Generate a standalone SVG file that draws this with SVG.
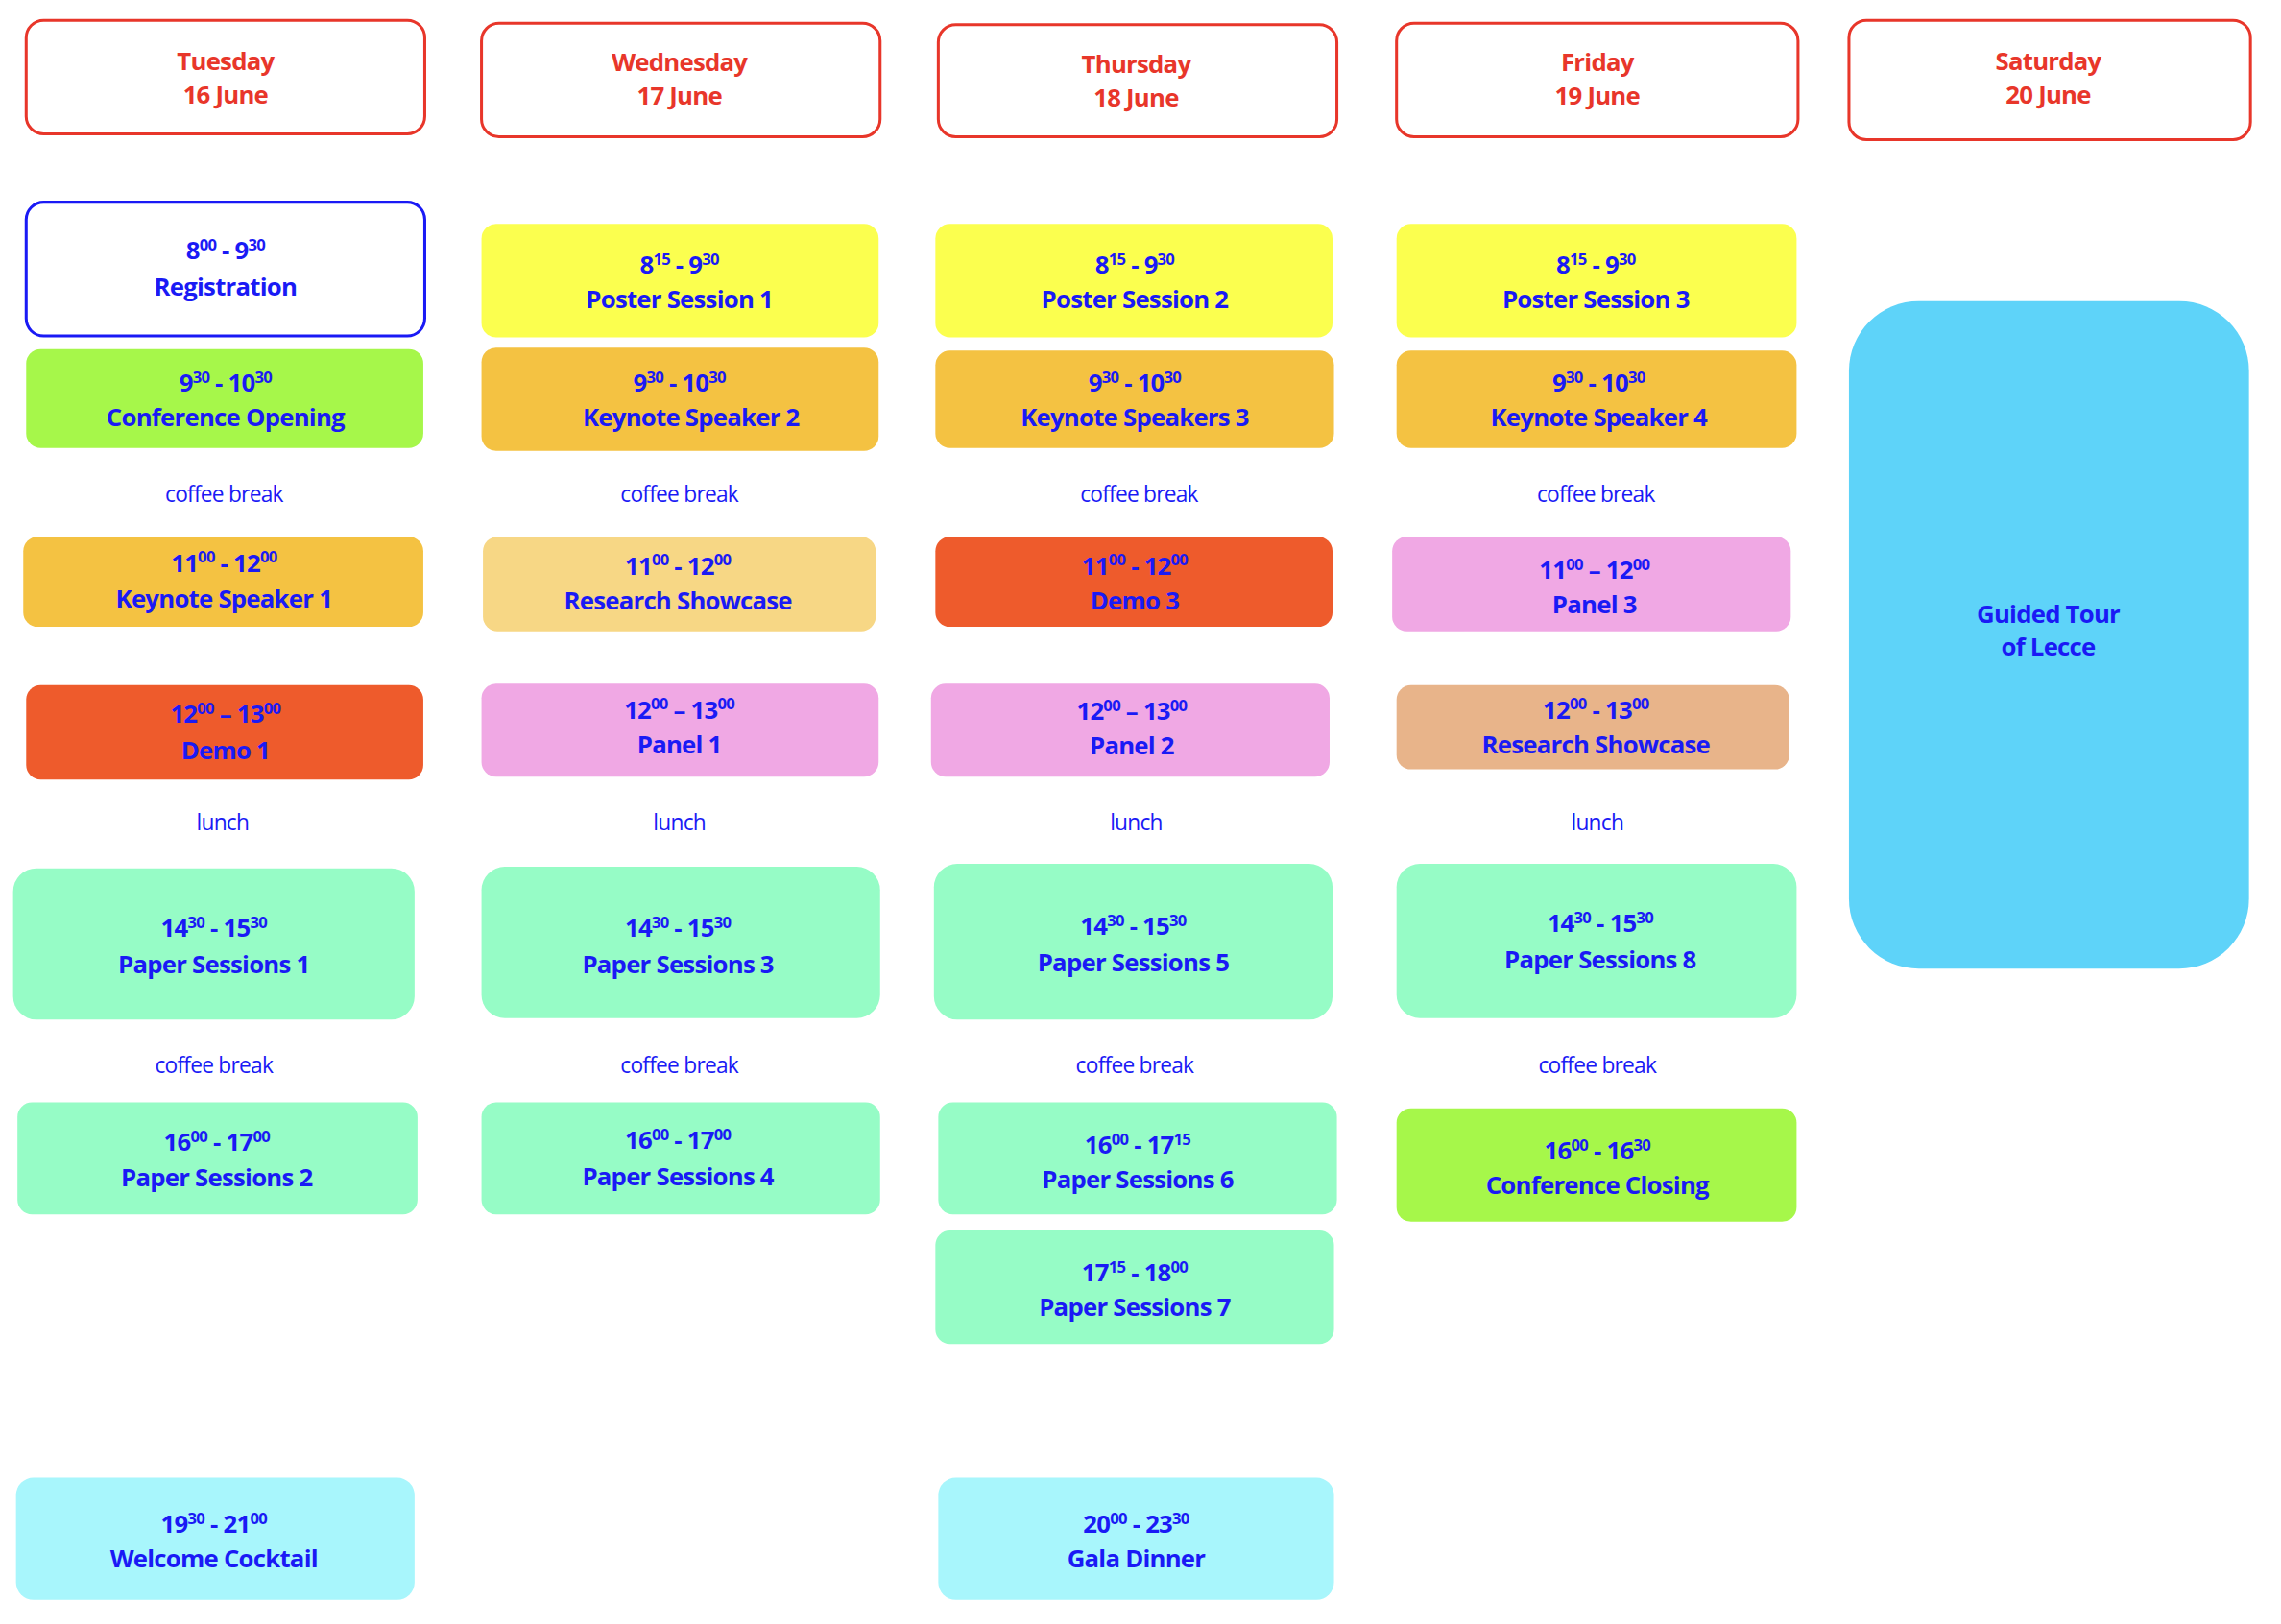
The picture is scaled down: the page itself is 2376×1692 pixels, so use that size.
<svg xmlns="http://www.w3.org/2000/svg" width="2376" height="1692" viewBox="0 0 2376 1692">
<style>
text{font-family:"Liberation Sans Narrow","Open Sans","Liberation Sans",sans-serif;font-weight:bold;text-anchor:middle;fill:#1a1af5;font-size:17px;letter-spacing:-0.5px}
.h{fill:#fff;stroke:#e8362a;stroke-width:2}
.h+text,.ht{fill:#e8362a}
.n{font-weight:normal;font-size:15px}
.s{font-size:11px}
</style>
<rect width="2376" height="1692" fill="#fff"/>
<g transform="scale(1.5153)">
<g id="hdr-tue"><rect class="h" x="18" y="14" width="274" height="78" rx="12"/><text class="ht" x="155" y="48">Tuesday</text><text class="ht" x="155" y="71">16 June</text></g>
<g id="hdr-wed"><rect class="h" x="331" y="16" width="274" height="78" rx="12"/><text class="ht" x="467" y="49">Wednesday</text><text class="ht" x="467" y="72">17 June</text></g>
<g id="hdr-thu"><rect class="h" x="645" y="17" width="274" height="77" rx="12"/><text class="ht" x="781" y="50">Thursday</text><text class="ht" x="781" y="73">18 June</text></g>
<g id="hdr-fri"><rect class="h" x="960" y="16" width="276" height="78" rx="12"/><text class="ht" x="1098" y="49">Friday</text><text class="ht" x="1098" y="72">19 June</text></g>
<g id="hdr-sat"><rect class="h" x="1271" y="14" width="276" height="82" rx="12"/><text class="ht" x="1408" y="48">Saturday</text><text class="ht" x="1408" y="71">20 June</text></g>

<g id="registration"><rect x="18" y="139" width="274" height="92" rx="12" fill="#fff" stroke="#1a1af5" stroke-width="2"/><text x="155" y="178">8<tspan class="s" dy="-6">00</tspan><tspan dy="6"> - 9</tspan><tspan class="s" dy="-6">30</tspan></text><text x="155" y="203">Registration</text></g>
<g id="opening"><rect x="18" y="240" width="273" height="68" rx="10" fill="#a6f74a"/><text x="155" y="269">9<tspan class="s" dy="-6">30</tspan><tspan dy="6"> - 10</tspan><tspan class="s" dy="-6">30</tspan></text><text x="155" y="293">Conference Opening</text></g>
<text class="n" x="154" y="345">coffee break</text>
<g id="keynote1"><rect x="16" y="369" width="275" height="62" rx="10" fill="#f4c242"/><text x="154" y="393">11<tspan class="s" dy="-6">00</tspan><tspan dy="6"> - 12</tspan><tspan class="s" dy="-6">00</tspan></text><text x="154" y="418">Keynote Speaker 1</text></g>
<g id="demo1"><rect x="18" y="471" width="273" height="65" rx="10" fill="#ee5b2c"/><text x="155" y="497">12<tspan class="s" dy="-6">00</tspan><tspan dy="6"> – 13</tspan><tspan class="s" dy="-6">00</tspan></text><text x="155" y="522">Demo 1</text></g>
<text class="n" x="153" y="571">lunch</text>
<g id="paper1"><rect x="9" y="597" width="276" height="104" rx="16" fill="#96fcc6"/><text x="147" y="644">14<tspan class="s" dy="-6">30</tspan><tspan dy="6"> - 15</tspan><tspan class="s" dy="-6">30</tspan></text><text x="147" y="669">Paper Sessions 1</text></g>
<text class="n" x="147" y="738">coffee break</text>
<g id="paper2"><rect x="12" y="758" width="275" height="77" rx="10" fill="#96fcc6"/><text x="149" y="791">16<tspan class="s" dy="-6">00</tspan><tspan dy="6"> - 17</tspan><tspan class="s" dy="-6">00</tspan></text><text x="149" y="816">Paper Sessions 2</text></g>
<g id="cocktail"><rect x="11" y="1016" width="274" height="84" rx="12" fill="#a8f6fc"/><text x="147" y="1054">19<tspan class="s" dy="-6">30</tspan><tspan dy="6"> - 21</tspan><tspan class="s" dy="-6">00</tspan></text><text x="147" y="1078">Welcome Cocktail</text></g>

<g id="poster1"><rect x="331" y="154" width="273" height="78" rx="10" fill="#fbff4f"/><text x="467" y="188">8<tspan class="s" dy="-6">15</tspan><tspan dy="6"> - 9</tspan><tspan class="s" dy="-6">30</tspan></text><text x="467" y="212">Poster Session 1</text></g>
<g id="keynote2"><rect x="331" y="239" width="273" height="71" rx="10" fill="#f4c242"/><text x="467" y="269">9<tspan class="s" dy="-6">30</tspan><tspan dy="6"> - 10</tspan><tspan class="s" dy="-6">30</tspan></text><text x="475" y="293">Keynote Speaker 2</text></g>
<text class="n" x="467" y="345">coffee break</text>
<g id="research2"><rect x="332" y="369" width="270" height="65" rx="10" fill="#f7d785"/><text x="466" y="395">11<tspan class="s" dy="-6">00</tspan><tspan dy="6"> - 12</tspan><tspan class="s" dy="-6">00</tspan></text><text x="466" y="419">Research Showcase</text></g>
<g id="panel1"><rect x="331" y="470" width="273" height="64" rx="10" fill="#f0a8e4"/><text x="467" y="494">12<tspan class="s" dy="-6">00</tspan><tspan dy="6"> – 13</tspan><tspan class="s" dy="-6">00</tspan></text><text x="467" y="518">Panel 1</text></g>
<text class="n" x="467" y="571">lunch</text>
<g id="paper3"><rect x="331" y="596" width="274" height="104" rx="16" fill="#96fcc6"/><text x="466" y="644">14<tspan class="s" dy="-6">30</tspan><tspan dy="6"> - 15</tspan><tspan class="s" dy="-6">30</tspan></text><text x="466" y="669">Paper Sessions 3</text></g>
<text class="n" x="467" y="738">coffee break</text>
<g id="paper4"><rect x="331" y="758" width="274" height="77" rx="10" fill="#96fcc6"/><text x="466" y="790">16<tspan class="s" dy="-6">00</tspan><tspan dy="6"> - 17</tspan><tspan class="s" dy="-6">00</tspan></text><text x="466" y="815">Paper Sessions 4</text></g>

<g id="poster2"><rect x="643" y="154" width="273" height="78" rx="10" fill="#fbff4f"/><text x="780" y="188">8<tspan class="s" dy="-6">15</tspan><tspan dy="6"> - 9</tspan><tspan class="s" dy="-6">30</tspan></text><text x="780" y="212">Poster Session 2</text></g>
<g id="keynote3"><rect x="643" y="241" width="274" height="67" rx="10" fill="#f4c242"/><text x="780" y="269">9<tspan class="s" dy="-6">30</tspan><tspan dy="6"> - 10</tspan><tspan class="s" dy="-6">30</tspan></text><text x="780" y="293">Keynote Speakers 3</text></g>
<text class="n" x="783" y="345">coffee break</text>
<g id="demo3"><rect x="643" y="369" width="273" height="62" rx="10" fill="#ee5b2c"/><text x="780" y="395">11<tspan class="s" dy="-6">00</tspan><tspan dy="6"> - 12</tspan><tspan class="s" dy="-6">00</tspan></text><text x="780" y="419">Demo 3</text></g>
<g id="panel2"><rect x="640" y="470" width="274" height="64" rx="10" fill="#f0a8e4"/><text x="778" y="495">12<tspan class="s" dy="-6">00</tspan><tspan dy="6"> – 13</tspan><tspan class="s" dy="-6">00</tspan></text><text x="778" y="519">Panel 2</text></g>
<text class="n" x="781" y="571">lunch</text>
<g id="paper5"><rect x="642" y="594" width="274" height="107" rx="16" fill="#96fcc6"/><text x="779" y="643">14<tspan class="s" dy="-6">30</tspan><tspan dy="6"> - 15</tspan><tspan class="s" dy="-6">30</tspan></text><text x="779" y="668">Paper Sessions 5</text></g>
<text class="n" x="780" y="738">coffee break</text>
<g id="paper6"><rect x="645" y="758" width="274" height="77" rx="10" fill="#96fcc6"/><text x="782" y="793">16<tspan class="s" dy="-6">00</tspan><tspan dy="6"> - 17</tspan><tspan class="s" dy="-6">15</tspan></text><text x="782" y="817">Paper Sessions 6</text></g>
<g id="paper7"><rect x="643" y="846" width="274" height="78" rx="10" fill="#96fcc6"/><text x="780" y="881">17<tspan class="s" dy="-6">15</tspan><tspan dy="6"> - 18</tspan><tspan class="s" dy="-6">00</tspan></text><text x="780" y="905">Paper Sessions 7</text></g>
<g id="gala"><rect x="645" y="1016" width="272" height="84" rx="12" fill="#a8f6fc"/><text x="781" y="1054">20<tspan class="s" dy="-6">00</tspan><tspan dy="6"> - 23</tspan><tspan class="s" dy="-6">30</tspan></text><text x="781" y="1078">Gala Dinner</text></g>

<g id="poster3"><rect x="960" y="154" width="275" height="78" rx="10" fill="#fbff4f"/><text x="1097" y="188">8<tspan class="s" dy="-6">15</tspan><tspan dy="6"> - 9</tspan><tspan class="s" dy="-6">30</tspan></text><text x="1097" y="212">Poster Session 3</text></g>
<g id="keynote4"><rect x="960" y="241" width="275" height="67" rx="10" fill="#f4c242"/><text x="1099" y="269">9<tspan class="s" dy="-6">30</tspan><tspan dy="6"> - 10</tspan><tspan class="s" dy="-6">30</tspan></text><text x="1099" y="293">Keynote Speaker 4</text></g>
<text class="n" x="1097" y="345">coffee break</text>
<g id="panel3"><rect x="957" y="369" width="274" height="65" rx="10" fill="#f0a8e4"/><text x="1096" y="398">11<tspan class="s" dy="-6">00</tspan><tspan dy="6"> – 12</tspan><tspan class="s" dy="-6">00</tspan></text><text x="1096" y="422">Panel 3</text></g>
<g id="research4"><rect x="960" y="471" width="270" height="58" rx="10" fill="#e8b48a"/><text x="1097" y="494">12<tspan class="s" dy="-6">00</tspan><tspan dy="6"> - 13</tspan><tspan class="s" dy="-6">00</tspan></text><text x="1097" y="518">Research Showcase</text></g>
<text class="n" x="1098" y="571">lunch</text>
<g id="paper8"><rect x="960" y="594" width="275" height="106" rx="16" fill="#96fcc6"/><text x="1100" y="641">14<tspan class="s" dy="-6">30</tspan><tspan dy="6"> - 15</tspan><tspan class="s" dy="-6">30</tspan></text><text x="1100" y="666">Paper Sessions 8</text></g>
<text class="n" x="1098" y="738">coffee break</text>
<g id="closing"><rect x="960" y="762" width="275" height="78" rx="10" fill="#a6f74a"/><text x="1098" y="797">16<tspan class="s" dy="-6">00</tspan><tspan dy="6"> - 16</tspan><tspan class="s" dy="-6">30</tspan></text><text x="1098" y="821">Conference Closing</text></g>

<g id="tour"><rect x="1271" y="207" width="275" height="459" rx="48" fill="#5ed3f9"/><text x="1408" y="428">Guided Tour</text><text x="1408" y="451">of Lecce</text></g>
<g id="connectors"/>
</g>
</svg>
